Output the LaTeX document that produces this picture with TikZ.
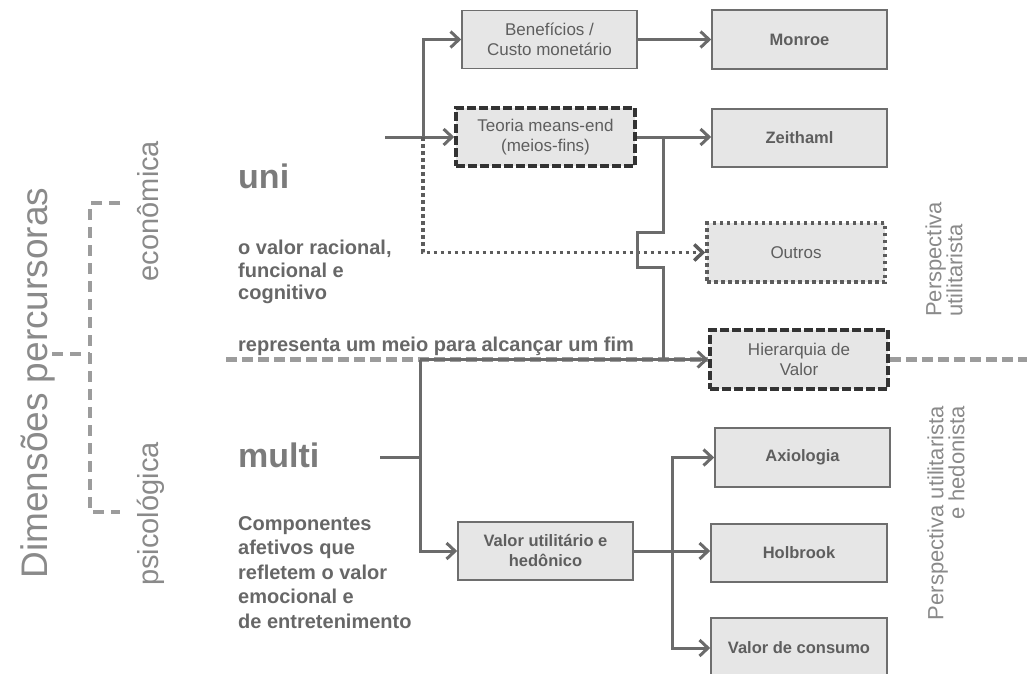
\documentclass[tikz,border=0pt]{standalone}
\usepackage{fontspec}
\setmainfont{Liberation Sans}
\usetikzlibrary{arrows.meta}
\definecolor{lnc}{HTML}{6B6B6B}
\definecolor{dotc}{HTML}{5C5C5C}
\definecolor{dashc}{HTML}{9C9C9C}
\definecolor{boxfill}{HTML}{E6E6E6}
\definecolor{boxline}{HTML}{6E6E6E}
\definecolor{boxtext}{HTML}{5E5E5E}
\definecolor{darkline}{HTML}{333333}
\definecolor{bodytext}{HTML}{676767}
\definecolor{titletext}{HTML}{7B7B7B}
\definecolor{sidetext}{HTML}{8A8A8A}
\begin{document}
\begin{tikzpicture}[x=1pt,y=-1pt,
  line/.style={draw=lnc, line width=3pt},
  conn/.style={line, -{Straight Barb[length=8.5pt,width=16pt]}},
  dotconn/.style={draw=dotc, line width=3.5pt, dash pattern=on 3.5pt off 3.5pt,
    -{Straight Barb[length=8.5pt,width=16pt]}},
  brk/.style={draw=dashc, line width=4.5pt, dash pattern=on 11pt off 7pt},
  maindash/.style={draw=dashc, line width=4.5pt, dash pattern=on 11pt off 5pt},
  box/.style={draw=boxline, line width=1.6pt, fill=boxfill, text=boxtext,
    align=center, inner sep=0pt, minimum width=175pt, minimum height=58pt,
    font=\fontsize{17}{20}\selectfont},
  boldbox/.style={box, font=\fontsize{16.5}{20}\selectfont\bfseries},
  dashbox/.style={box, draw=darkline, line width=3.5pt, dash pattern=on 9pt off 3pt},
  dotbox/.style={box, draw=dotc, line width=3.5pt, dash pattern=on 3.5pt off 3.5pt},
  bigside/.style={rotate=90, anchor=base, text=sidetext, inner sep=0pt},
  body/.style={anchor=north west, align=left, inner sep=0pt, text=bodytext,
    font=\fontsize{20}{22.5}\selectfont\bfseries},
  title/.style={anchor=base west, inner sep=0pt, text=titletext,
    font=\fontsize{34}{40}\selectfont\bfseries},
  persp/.style={rotate=90, inner sep=0pt, text=sidetext,
    font=\fontsize{22}{21}\selectfont}
]
\useasboundingbox (0,0) rectangle (1027,673);
\clip (0,0) rectangle (1027,673);

% left titles
\node[bigside, font=\fontsize{37}{40}\selectfont] (dim) at (47,383) {Dimensões percursoras};
\node[bigside, font=\fontsize{29}{34}\selectfont] (eco) at (158,211) {econômica};
\node[bigside, font=\fontsize{29}{34}\selectfont] (psi) at (158,514) {psicológica};

% bracket
\coordinate (brTopE) at (120,203);
\coordinate (brTop) at (90,203);
\coordinate (brBot) at (90,512);
\coordinate (brBotE) at (120,512);
\coordinate (brMid) at (90,354);
\coordinate (brMidW) at (52,354);
\draw[brk] (brTopE) -- (brTop) -- (brBot) -- (brBotE);
\draw[brk] (brMidW) -- (brMid);

% middle texts
\node[title] (uni) at (238,188) {uni};
\node[body] (uniTxt) at (238,240) {o valor racional,\\funcional e\\cognitivo};
\node[anchor=base west, inner sep=0pt, text=bodytext,
  font=\fontsize{20}{22.5}\selectfont\bfseries] (meio) at (238,351)
  {representa um meio para alcançar um fim};
\node[title] (multi) at (238,467) {multi};
\node[body, font=\fontsize{20}{24.5}\selectfont\bfseries] (multiTxt) at (238,516)
  {Componentes\\afetivos que\\refletem o valor\\emocional e\\de entretenimento};

% boxes
\node[box] (ben) at (549.5,39.5) {Benefícios /\\Custo monetário};
\node[dashbox, minimum width=179pt] (teo) at (545.5,137) {Teoria means-end\\(meios-fins)};
\node[boldbox, minimum height=59pt] (mon) at (799.5,39.5) {Monroe};
\node[boldbox] (zei) at (799.5,138) {Zeithaml};
\node[dotbox, minimum width=178pt, minimum height=59pt] (out) at (796,252.5) {Outros};
\node[dashbox, minimum width=178pt, minimum height=59pt] (hie) at (799,359.5) {Hierarquia de\\Valor};
\node[boldbox, minimum height=59pt] (axi) at (802.5,457.5) {Axiologia};
\node[boldbox, minimum width=176pt] (hol) at (799,553) {Holbrook};
\node[boldbox, minimum width=176pt, minimum height=60pt] (vcs) at (799,648) {Valor de consumo};
\node[boldbox] (vuh) at (545.5,551) {Valor utilitário e\\hedônico};

% right side labels
\node[persp, anchor=west, align=left] (pu) at (944,317) {Perspectiva\\utilitarista};
\node[persp, anchor=east, align=right] (puh) at (946,406) {Perspectiva utilitarista\\e hedonista};

% main dashed axis
\coordinate (mainW) at (226,359.5);
\coordinate (mainE) at (1030,359.5);
\draw[maindash] (mainW) -- (hie.west);
\draw[maindash] (hie.east) -- (mainE);

% upper connectors
\coordinate (inU) at (385,137);
\coordinate (jU) at (423,137);
\draw[line] (inU) -- (jU);
\draw[conn] (jU) -- (teo.west);
\draw[conn] (jU) |- (ben.west);
\draw[dotconn] (jU) |- (out.west);
\draw[conn] (ben.east) -- (mon.west);
\draw[conn] (teo.east) -- (teo.east -| zei.west);

% line hopping over the dotted connector
\coordinate (hopT) at (663,137);
\coordinate (jL) at (420,359.5);
\draw[line] (hopT) -- ++(0,95) -- ++(-26,0) -- ++(0,35) -- ++(26,0) -- (hopT |- jL);

% lower connectors
\coordinate (multiE) at (380,457);
\draw[conn] (jL) -- (hie.west);
\draw[line] (multiE) -- (jL |- multiE);
\draw[conn] (jL) |- (vuh.west);
\coordinate (jR) at (672,552);
\draw[conn] (vuh.east) -- (vuh.east -| hol.west);
\draw[conn] (jR) |- (axi.west);
\draw[conn] (jR) |- (vcs.west);
\end{tikzpicture}
\end{document}
